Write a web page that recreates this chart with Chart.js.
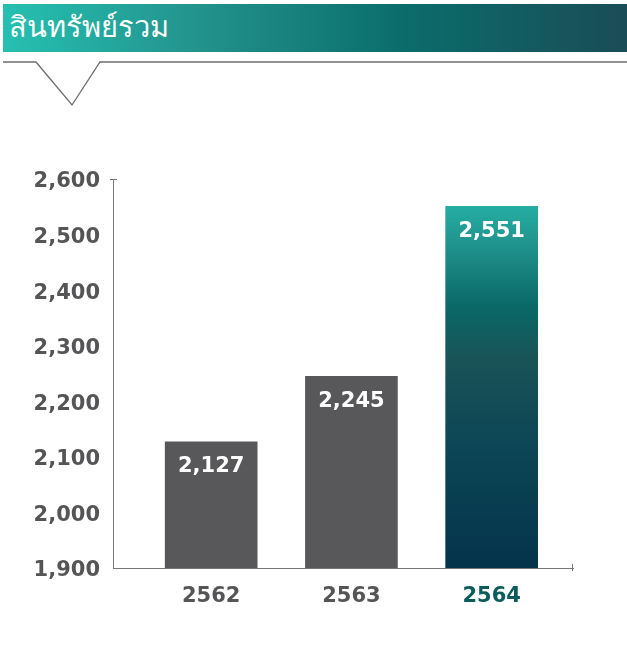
<!DOCTYPE html>
<html>
<head>
<meta charset="utf-8">
<script src="https://cdn.jsdelivr.net/npm/chart.js@4/dist/chart.umd.min.js"></script>
<style>
  html, body { margin: 0; padding: 0; background: #fff; }
  body { width: 627px; height: 648px; position: relative; overflow: hidden; font-family: "DejaVu Sans", "Noto Sans", sans-serif; }
  .header {
    position: absolute; left: 3px; top: 4px; width: 624px; height: 48px;
    background: linear-gradient(90deg, #25c0b1 0%, #23948e 30%, #0a6c6a 65%, #1a4c57 100%);
  }
  .header span {
    position: absolute; left: 6px; top: 7px; color: #fff; font-size: 29px; line-height: 32px;
  }
  svg.deco { position: absolute; left: 0; top: 0; }
  .wrap { position: absolute; left: 0; top: 120px; width: 627px; height: 520px; }
</style>
</head>
<body>
<div class="header"><span>สินทรัพย์รวม</span></div>
<svg class="deco" width="627" height="120">
  <polyline points="3,62 36,62 72,105 100,62 627,62" fill="none" stroke="#6d6d6d" stroke-width="1.3"/>
</svg>
<div class="wrap"><canvas id="barChart"></canvas></div>
<script>
// ---------------- data ----------------
const years = [2562, 2563, 2564];
const totalAssets = [2127, 2245, 2551];
const yTicks = [1900, 2000, 2100, 2200, 2300, 2400, 2500, 2600];

const GREY = "#58585a";
const TEXT = "#555557";
const TEAL_DARK = "#0c5c5c";

// batang terakhir pakai gradasi teal -> navy
function barFill(c) {
  const chart = c.chart;
  if (c.dataIndex !== 2) return GREY;
  const area = chart.chartArea;
  if (!area) return GREY;
  const el = c.element;
  const top = el && el.y ? el.y : area.top;
  const g = chart.ctx.createLinearGradient(0, top, 0, area.bottom);
  g.addColorStop(0, "#27c0b1");
  g.addColorStop(0.16, "#21958f");
  g.addColorStop(0.33, "#0a6867");
  g.addColorStop(0.47, "#195257");
  g.addColorStop(0.7, "#0c4555");
  g.addColorStop(1, "#04334c");
  return g;
}

// label putih di dalam batang
const valueLabels = {
  id: "valueLabels",
  afterDatasetsDraw(chart) {
    const ctx = chart.ctx;
    const meta = chart.getDatasetMeta(0);
    ctx.save();
    ctx.fillStyle = "#fff";
    ctx.font = "bold 21px 'DejaVu Sans'";
    ctx.textAlign = "center";
    ctx.textBaseline = "middle";
    meta.data.forEach((bar, i) => {
      ctx.fillText(totalAssets[i].toLocaleString("en-US"), bar.x, bar.y + 25);
    });
    ctx.restore();
  },
};

// ujung sumbu (tick kecil di ujung)
const axisCaps = {
  id: "axisCaps",
  afterDraw(chart) {
    const { ctx, chartArea: a } = chart;
    ctx.save();
    ctx.strokeStyle = "#777";
    ctx.lineWidth = 1;
    ctx.beginPath();
    ctx.moveTo(a.left - 3, a.top + 0.5);
    ctx.lineTo(a.left + 4, a.top + 0.5);
    ctx.moveTo(a.right - 0.5, a.bottom - 4);
    ctx.lineTo(a.right - 0.5, a.bottom + 3);
    ctx.stroke();
    ctx.restore();
  },
};

new Chart(document.getElementById("barChart"), {
  type: "bar",
  data: {
    datasets: [
      {
        data: years.map((y, i) => ({ x: y, y: totalAssets[i] })),
        backgroundColor: barFill,
        borderWidth: 0,
        barThickness: 92,
      },
    ],
  },
  options: {
    responsive: true,
    maintainAspectRatio: false,
    animation: false,
    layout: { padding: { top: 59, right: 54, bottom: 0, left: 0 } },
    plugins: { legend: { display: false }, tooltip: { enabled: false } },
    scales: {
      x: {
        type: "linear",
        offset: false,
        min: 2561.3,
        max: 2564.58,
        afterFit: (s) => { s.height = 72; },
        afterBuildTicks: (s) => { s.ticks = years.map((v) => ({ value: v })); },
        grid: { display: false, drawTicks: false },
        border: { color: "#777", width: 1 },
        ticks: {
          padding: 16,
          color: (c) => (c.tick && c.tick.value === 2564 ? TEAL_DARK : TEXT),
          font: { family: "DejaVu Sans", size: 21, weight: "bold" },
          callback: (v) => String(v),
        },
      },
      y: {
        min: yTicks[0],
        max: yTicks[yTicks.length - 1],
        afterFit: (s) => { s.width = 113; },
        afterBuildTicks: (s) => { s.ticks = yTicks.map((v) => ({ value: v })); },
        grid: { display: false, drawTicks: false },
        border: { color: "#777", width: 1 },
        ticks: {
          padding: 13,
          labelOffset: 3,
          color: TEXT,
          font: { family: "DejaVu Sans", size: 21, weight: "bold" },
          callback: (v) => v.toLocaleString("en-US"),
        },
      },
    },
  },
  plugins: [valueLabels, axisCaps],
});
</script>
</body>
</html>
